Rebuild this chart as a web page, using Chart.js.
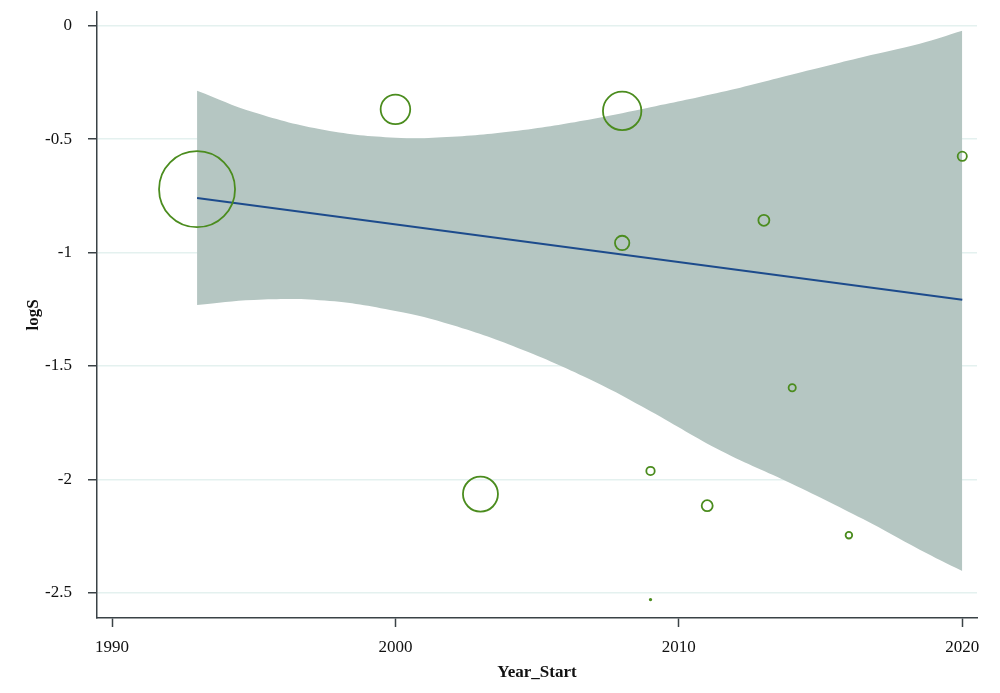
<!DOCTYPE html>
<html>
<head>
<meta charset="utf-8">
<script src="https://cdn.jsdelivr.net/npm/chart.js@4"></script>
<style>
  body { margin: 0; background: #fff; }
  canvas { display: block; }
</style>
</head>
<body>
<canvas id="chart" width="1000" height="693"></canvas>
<script>
// studies: start year, logS, bubble size (px radius)
const studyYears = [1993, 2000, 2003, 2008, 2008, 2009, 2009, 2011, 2013, 2014, 2016, 2020];
const studyLogS = [-0.721, -0.369, -2.065, -0.376, -0.958, -1.963, -2.53, -2.116, -0.858, -1.596, -2.246, -0.576];
const studySize = [38, 14.8, 17.5, 19.2, 7.2, 4.2, 0.8, 5.5, 5.5, 3.6, 3.3, 4.6];

// fitted line
const fitYears = [1993, 2020];
const fitLogS = [-0.76, -1.208];

// confidence band
const bandYears = [1993, 1995, 1997.5, 2000, 2002, 2004.5, 2007, 2009, 2011.5, 2014, 2016.5, 2018.5, 2020];
const bandUpper = [-0.287, -0.382, -0.46, -0.494, -0.49, -0.46, -0.41, -0.36, -0.293, -0.215, -0.138, -0.08, -0.023];
const bandLower = [-1.231, -1.209, -1.212, -1.258, -1.32, -1.43, -1.568, -1.7, -1.875, -2.02, -2.175, -2.31, -2.404];

const xTicks = [1990, 2000, 2010, 2020];
const yTicks = [0, -0.5, -1, -1.5, -2, -2.5];

const axisColor = "#3a4246";
const gridColor = "#e4f1ef";
const tickFont = { family: "'Liberation Serif', serif", size: 17 };
const titleFont = { family: "'Liberation Serif', serif", size: 17, weight: "bold" };

const toPoints = (xs, ys) => xs.map((x, i) => ({ x: x, y: ys[i] }));

const ctx = document.getElementById("chart").getContext("2d");
new Chart(ctx, {
  type: "bubble",
  data: {
    datasets: [
      {
        type: "line",
        data: toPoints(bandYears, bandUpper),
        borderWidth: 0,
        pointRadius: 0,
        backgroundColor: "#b5c6c2",
        fill: "+1",
        tension: 0.4,
        order: 3
      },
      {
        type: "line",
        data: toPoints(bandYears, bandLower),
        borderWidth: 0,
        pointRadius: 0,
        fill: false,
        tension: 0.4,
        order: 3
      },
      {
        type: "line",
        data: toPoints(fitYears, fitLogS),
        borderColor: "#1d4b8c",
        borderWidth: 2,
        pointRadius: 0,
        fill: false,
        order: 2
      },
      {
        data: studyYears.map((x, i) => ({ x: x, y: studyLogS[i], r: studySize[i] })),
        backgroundColor: "rgba(0,0,0,0)",
        borderColor: "#4b8c1e",
        borderWidth: 1.8,
        order: 1
      }
    ]
  },
  options: {
    responsive: false,
    animation: false,
    layout: { autoPadding: false, padding: { top: 12, right: 23, left: 0, bottom: 0 } },
    plugins: {
      legend: { display: false },
      tooltip: { enabled: false }
    },
    scales: {
      x: {
        type: "linear",
        min: 1989.47,
        max: 2020.52,
        afterBuildTicks: (scale) => { scale.ticks = xTicks.map(v => ({ value: v })); },
        afterFit: (scale) => { scale.height = 75; scale.paddingLeft = 0; scale.paddingRight = 0; },
        grid: { drawOnChartArea: false, tickLength: 9, tickColor: axisColor, tickWidth: 1.5 },
        border: { color: axisColor, width: 1.5 },
        ticks: { font: tickFont, color: "#111", padding: 10, maxRotation: 0, callback: v => String(v) },
        title: { display: true, text: "Year_Start", font: titleFont, color: "#111", padding: { top: 0, bottom: 10 } }
      },
      y: {
        type: "linear",
        min: -2.611,
        max: 0.06,
        afterBuildTicks: (scale) => { scale.ticks = yTicks.map(v => ({ value: v })); },
        afterFit: (scale) => { scale.width = 97; scale.paddingTop = 0; scale.paddingBottom = 0; },
        grid: { color: gridColor, lineWidth: 1.5, tickLength: 9, tickColor: axisColor, tickWidth: 1.5 },
        border: { color: axisColor, width: 1.5 },
        ticks: { font: tickFont, color: "#111", padding: 16, callback: v => String(v) },
        title: { display: true, text: "logS", font: titleFont, color: "#111", padding: { top: 23, bottom: 0 } }
      }
    }
  }
});
</script>
</body>
</html>
